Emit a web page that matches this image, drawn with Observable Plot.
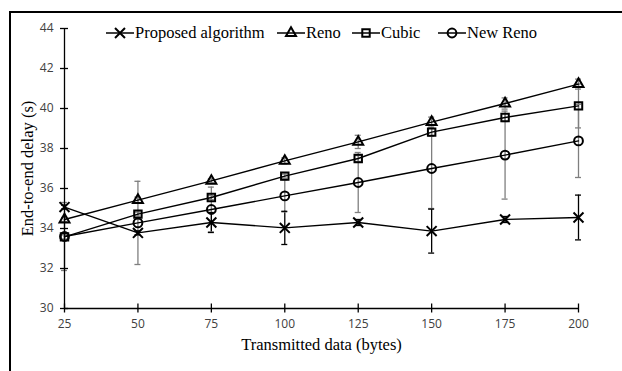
<!DOCTYPE html>
<html>
<head>
<meta charset="utf-8">
<script src="https://cdn.jsdelivr.net/npm/d3@7"></script>
<script src="https://cdn.jsdelivr.net/npm/@observablehq/plot@0.6"></script>
<style>
  html, body { margin: 0; padding: 0; background: #fff; overflow: hidden; }
  #wrap { position: relative; width: 622px; height: 371px; }
  #frame { position: absolute; left: 9px; top: 11px; width: 700px; height: 400px;
           border-left: 2px solid #000; border-top: 2px solid #000; pointer-events: none; }
  #legend { position: absolute; left: 0; top: 24px; height: 18px; width: 622px;
            font-family: "Liberation Serif", "Times New Roman", serif; font-size: 16.5px; color: #000; }
  .item { position: absolute; top: 0; display: flex; align-items: center; height: 18px; white-space: nowrap; }
  .item svg { display: block; }
</style>
</head>
<body>
<div id="wrap">
  <div id="chart"></div>
  <div id="legend"></div>
  <div id="frame"></div>
</div>
<script>
// ---- data ----
const xs = [25, 50, 75, 100, 125, 150, 175, 200];
const proposed = [35.07, 33.78, 34.30, 34.03, 34.30, 33.87, 34.45, 34.55];
const reno     = [34.45, 35.42, 36.38, 37.38, 38.33, 39.32, 40.25, 41.22];
const cubic    = [33.58, 34.72, 35.55, 36.62, 37.50, 38.82, 39.55, 40.13];
const newReno  = [33.60, 34.28, 34.95, 35.63, 36.30, 37.00, 37.67, 38.38];
const proposedErr = [0.10, 0.10, 0.50, 0.83, 0.15, 1.10, 0.15, 1.12];
const renoErr     = [0.10, 0.15, 0.10, 0.15, 0.33, 0.25, 0.28, 0.25];
const cubicErr    = [0.10, 0.10, 0.10, 0.10, 0.15, 0.20, 0.20, 1.10];
const newRenoErr  = [1.70, 2.08, 1.12, 0.80, 1.50, 2.00, 2.20, 1.83];
const seriesNames = ["Proposed algorithm", "Reno", "Cubic", "New Reno"];
const yTicks = [30, 32, 34, 36, 38, 40, 42, 44];
const xTitle = "Transmitted data (bytes)";
const yTitle = "End-to-end delay (s)";

const seriesDefs = [
  {name: seriesNames[0], vals: proposed, err: proposedErr, symbol: "times",    r: 4.6, errColor: "#000"},
  {name: seriesNames[1], vals: reno,     err: renoErr,     symbol: "triangle", r: 3.7, errColor: "#7f7f7f"},
  {name: seriesNames[2], vals: cubic,    err: cubicErr,    symbol: "square",   r: 4.2, errColor: "#7f7f7f"},
  {name: seriesNames[3], vals: newReno,  err: newRenoErr,  symbol: "circle",   r: 4.4, errColor: "#7f7f7f"}
];
const rows = seriesDefs.flatMap(s => xs.map((x, i) => ({
  series: s.name, x, y: s.vals[i], lo: s.vals[i] - s.err[i], hi: s.vals[i] + s.err[i],
  symbol: s.symbol, errColor: s.errColor
})));

const serif = "'Liberation Serif', 'Times New Roman', serif";
const sans = "'Open Sans', 'Liberation Sans', sans-serif";

const marks = [];
// error bars (grey first, black last)
const errOrder = [...rows].sort((a, b) => (a.errColor === "#000") - (b.errColor === "#000"));
marks.push(Plot.ruleX(errOrder, {x: "x", y1: "lo", y2: "hi", stroke: "errColor", strokeWidth: 1.3}));
marks.push(Plot.ruleY(errOrder, {y: "lo", x1: "x", x2: "x", insetLeft: -3, insetRight: -3, stroke: "errColor", strokeWidth: 1.3}));
marks.push(Plot.ruleY(errOrder, {y: "hi", x1: "x", x2: "x", insetLeft: -3, insetRight: -3, stroke: "errColor", strokeWidth: 1.3}));
// lines
for (const s of seriesDefs) {
  marks.push(Plot.line(rows.filter(d => d.series === s.name), {x: "x", y: "y", stroke: "#000", strokeWidth: 1.4}));
}
// markers
for (const s of seriesDefs) {
  marks.push(Plot.dot(rows.filter(d => d.series === s.name), {
    x: "x", y: "y", symbol: () => s.symbol, r: s.r,
    stroke: "#000", fill: "none", strokeWidth: 2
  }));
}
// axes lines
marks.push(Plot.ruleX([xs[0]], {y1: yTicks[0], y2: yTicks[yTicks.length - 1], stroke: "#000", strokeWidth: 1.3}));
marks.push(Plot.ruleY([yTicks[0]], {x1: xs[0], x2: xs[xs.length - 1], stroke: "#000", strokeWidth: 1.3}));
// y ticks crossing axis
marks.push(Plot.axisY({ticks: yTicks, tickSize: 8, dx: 4, tickFormat: () => "", label: null, strokeWidth: 1.3}));
marks.push(Plot.axisY({ticks: yTicks, tickSize: 0, tickPadding: 11, label: null, fontSize: 12, fontFamily: sans, fill: "#404040"}));
// x ticks crossing axis
marks.push(Plot.axisX({ticks: xs, tickSize: 9, dy: -4.5, tickFormat: () => "", label: null, strokeWidth: 1.3}));
marks.push(Plot.axisX({ticks: xs, tickSize: 0, tickPadding: 11, label: null, fontSize: 12, fontFamily: sans, fill: "#404040"}));
// titles
marks.push(Plot.text([xTitle], {frameAnchor: "bottom", dy: 41, fontSize: 16.5, fontFamily: serif, fill: "#000"}));
marks.push(Plot.text([yTitle], {frameAnchor: "left", textAnchor: "middle", dx: -37, rotate: -90, fontSize: 16.5, fontFamily: serif, fill: "#000"}));

const chart = Plot.plot({
  width: 622, height: 371,
  marginLeft: 64, marginRight: 44, marginTop: 28, marginBottom: 63,
  x: {domain: [25, 200]},
  y: {domain: [30, 44]},
  style: {background: "#fff", overflow: "visible"},
  marks
});
document.getElementById("chart").appendChild(chart);

// legend (HTML overlay)
const legendLeft = [106, 277, 352, 438];
const legend = document.getElementById("legend");
seriesDefs.forEach((s, i) => {
  const item = document.createElement("div");
  item.className = "item";
  item.style.left = legendLeft[i] + "px";
  const svg = d3.create("svg").attr("width", 29).attr("height", 18);
  svg.append("line").attr("x1", 0).attr("x2", 28).attr("y1", 9).attr("y2", 9).attr("stroke", "#000").attr("stroke-width", 1.5);
  const symType = {times: d3.symbolTimes, triangle: d3.symbolTriangle, square: d3.symbolSquare, circle: d3.symbolCircle}[s.symbol];
  svg.append("path").attr("transform", "translate(14,9)")
     .attr("d", d3.symbol(symType, Math.PI * s.r * s.r)())
     .attr("fill", "none").attr("stroke", "#000").attr("stroke-width", 2);
  item.appendChild(svg.node());
  const t = document.createElement("span");
  t.textContent = s.name;
  item.appendChild(t);
  legend.appendChild(item);
});
</script>
</body>
</html>
